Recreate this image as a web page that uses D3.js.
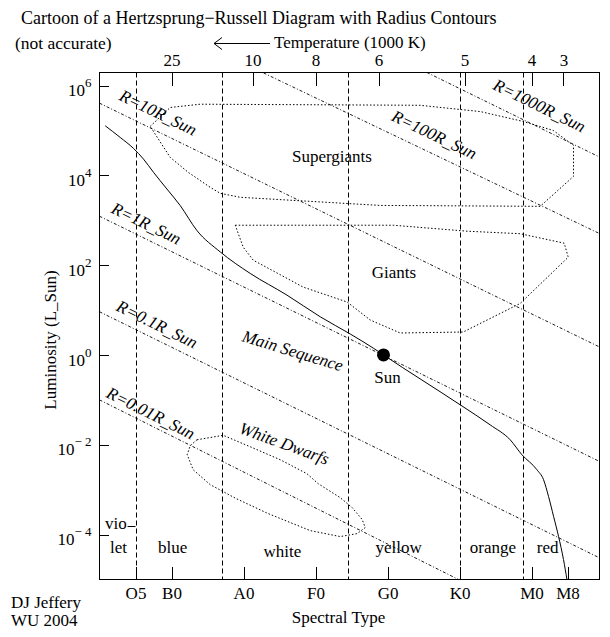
<!DOCTYPE html>
<html>
<head>
<meta charset="utf-8">
<script src="https://cdn.jsdelivr.net/npm/d3@7"></script>
<style>
  body { margin: 0; background: #fff; }
  text { font-family: "Liberation Serif", "Times New Roman", "DejaVu Serif", serif; }
</style>
</head>
<body>
<svg id="canvas"></svg>
<script>
// spectral type axis (x in "class units": B0 = 1, A0 = 2, ...)
var spectralTypes = ['O5', 'B0', 'A0', 'F0', 'G0', 'K0', 'M0', 'M8'];
var spectralPos = [0.5, 1, 2, 3, 4, 5, 6, 6.5];
var tempLabels = ['25', '10', '8', '6', '5', '4', '3'];
var tempPos = [1, 2.125, 3, 3.875, 5.07, 6, 6.444];
var lumExponents = [6, 4, 2, 0, -2, -4];

// colour band boundaries and names
var bandEdges = [0.5, 1.7, 3.45, 5.0, 5.875];
var bandNames = ['vio', 'let', 'blue', 'white', 'yellow', 'orange', 'red'];
var bandX = [0.229, 0.264, 1.017, 2.54, 4.153, 5.465, 6.225];
var bandY = [-3.87, -4.4, -4.42, -4.5, -4.42, -4.42, -4.42];

// radius contours, log L vs spectral position
var radiusNames = ['R=0.01R_Sun', 'R=0.1R_Sun', 'R=1R_Sun', 'R=10R_Sun', 'R=100R_Sun', 'R=1000R_Sun'];
var radiusLines = [
  [[0, -1.0], [4.986, -5.0]],
  [[0, 0.962], [6.944, -4.518]],
  [[0, 3.089], [6.944, -2.371]],
  [[0, 5.607], [6.944, 0.178]],
  [[2.278, 6.28], [6.944, 2.704]],
  [[4.547, 6.29], [6.944, 4.407]]
];
var radiusLabelAt = [[0.08, -0.93], [0.22, 1.0], [0.15, 3.18], [0.26, 5.69], [4.04, 5.23], [5.45, 5.93]];

var mainSequence = [
  [0.079, 5.104], [0.2875, 4.844], [0.472, 4.6], [0.611, 4.362], [0.75, 4.067],
  [0.936, 3.696], [1.121, 3.327], [1.353, 2.771], [1.676, 2.296], [2.093, 1.816],
  [2.603, 1.333], [3.065, 0.851], [3.482, 0.467], [3.806, 0.149], [3.944, 0],
  [5.01, -1.111], [5.425, -1.556], [5.703, -1.889], [5.867, -2.222], [6.075, -2.556],
  [6.167, -2.778], [6.236, -3.149], [6.306, -3.593], [6.375, -4.038], [6.444, -4.556],
  [6.492, -5.0]
];
var sun = [3.944, 0];

var supergiants = [
  [0.704, 5.089], [0.982, 5.511], [1.399, 5.584], [4.45, 5.56], [5.288, 5.42],
  [5.885, 5.2], [6.301, 5.0], [6.583, 4.667], [6.583, 3.978], [6.121, 3.31],
  [3.9, 3.33], [1.954, 3.511], [1.676, 3.6], [1.538, 3.733], [1.232, 4.067],
  [0.982, 4.4]
];
var giants = [
  [1.885, 2.889], [4.079, 2.889], [5.107, 2.756], [5.843, 2.7], [6.454, 2.489],
  [6.51, 2.178], [5.843, 1.148], [5.051, 0.511], [4.176, 0.489], [3.76, 0.778],
  [3.44, 1.178], [2.829, 1.511], [2.135, 2.111], [1.996, 2.4]
];
var whiteDwarfs = [
  [1.353, -1.889], [1.718, -1.789], [2.093, -2.044], [2.51, -2.333], [2.881, -2.644],
  [3.038, -2.867], [3.343, -3.178], [3.51, -3.4], [3.649, -3.667], [3.69, -3.844],
  [3.579, -3.978], [3.343, -4.044], [2.926, -3.911], [2.343, -3.533], [1.9, -3.2],
  [1.538, -2.889], [1.301, -2.556], [1.218, -2.222], [1.26, -2.022]
];

var regionNames = ['Supergiants', 'Giants', 'Sun'];
var regionAt = [[3.228, 4.289], [4.089, 1.704], [4.0, -0.616]];
var slantNames = ['Main Sequence', 'White Dwarfs'];
var slantAt = [[1.968, 0.311], [1.926, -1.733]];
var slantAngle = [17, 20];

var width = 610, height = 637;
var FONT = 17;
var SERIF = '"Liberation Serif", "Times New Roman", "DejaVu Serif", serif';

var svg = d3.select('#canvas').attr('width', width).attr('height', height)
  .attr('font-family', SERIF);

var x = d3.scaleLinear().domain([0, 6.944]).range([99.5, 599.5]);
var y = d3.scaleLinear().domain([-5, 6.29]).range([579.5, 72.5]);

svg.append('clipPath').attr('id', 'plot-clip')
  .append('rect')
  .attr('x', x.range()[0]).attr('y', y.range()[1])
  .attr('width', x.range()[1] - x.range()[0])
  .attr('height', y.range()[0] - y.range()[1]);

var line = d3.line().x(function (d) { return x(d[0]); }).y(function (d) { return y(d[1]); });

// vertical band separators
svg.append('g').selectAll('line')
  .data(bandEdges)
  .enter().append('line')
  .attr('x1', function (d) { return Math.round(x(d)) + 0.5; })
  .attr('x2', function (d) { return Math.round(x(d)) + 0.5; })
  .attr('y1', y.range()[1]).attr('y2', y.range()[0])
  .attr('stroke', '#000').attr('stroke-dasharray', '5,3');

var plot = svg.append('g').attr('clip-path', 'url(#plot-clip)');

plot.selectAll('.radius')
  .data(radiusLines)
  .enter().append('path')
  .classed('radius', true)
  .attr('d', line)
  .attr('fill', 'none').attr('stroke', '#000').attr('stroke-width', 0.9)
  .attr('stroke-dasharray', '3,2,1,2');

[supergiants, giants, whiteDwarfs].forEach(function (poly) {
  plot.append('path')
    .attr('d', line(poly) + 'Z')
    .attr('fill', 'none').attr('stroke', '#000')
    .attr('stroke-dasharray', '1.5,2');
});

plot.append('path')
  .attr('d', line.curve(d3.curveMonotoneX)(mainSequence))
  .attr('fill', 'none').attr('stroke', '#000');
line.curve(d3.curveLinear);

plot.append('circle')
  .attr('cx', x(sun[0])).attr('cy', y(sun[1])).attr('r', 6.5)
  .attr('fill', '#000');

// radius labels along their lines
radiusNames.forEach(function (name, i) {
  var p1 = radiusLines[i][0], p2 = radiusLines[i][1];
  var ang = Math.atan2(y(p2[1]) - y(p1[1]), x(p2[0]) - x(p1[0])) * 180 / Math.PI;
  var px = x(radiusLabelAt[i][0]), py = y(radiusLabelAt[i][1]);
  svg.append('text')
    .attr('transform', 'translate(' + px + ',' + py + ') rotate(' + ang + ')')
    .attr('font-size', FONT).attr('font-style', 'italic')
    .text(name);
});

regionNames.forEach(function (name, i) {
  svg.append('text')
    .attr('x', x(regionAt[i][0])).attr('y', y(regionAt[i][1]))
    .attr('text-anchor', 'middle').attr('font-size', FONT)
    .text(name);
});

slantNames.forEach(function (name, i) {
  svg.append('text')
    .attr('transform', 'translate(' + x(slantAt[i][0]) + ',' + y(slantAt[i][1]) + ') rotate(' + slantAngle[i] + ')')
    .attr('font-size', FONT).attr('font-style', 'italic')
    .text(name);
});

// colour band names
bandNames.forEach(function (name, i) {
  svg.append('text')
    .attr('x', x(bandX[i])).attr('y', y(bandY[i]))
    .attr('text-anchor', 'middle').attr('font-size', FONT)
    .text(name);
});
// hyphen of vio-let running to the O5 line
svg.append('line')
  .attr('x1', x(0.39)).attr('x2', x(bandEdges[0]))
  .attr('y1', Math.round(y(-3.81)) + 0.5).attr('y2', Math.round(y(-3.81)) + 0.5)
  .attr('stroke', '#000');

// axes
function styleAxis(g) {
  g.select('.domain').remove();
  g.attr('font-family', SERIF).attr('font-size', FONT);
  g.selectAll('line').attr('shape-rendering', 'crispEdges');
}

svg.append('g')
  .attr('transform', 'translate(0,' + y.range()[0] + ')')
  .call(d3.axisBottom(x).tickValues(spectralPos)
    .tickFormat(function (d, i) { return spectralTypes[i]; })
    .tickSizeInner(-13).tickSizeOuter(0).tickPadding(7))
  .call(styleAxis);

svg.append('g')
  .attr('transform', 'translate(0,' + y.range()[1] + ')')
  .call(d3.axisTop(x).tickValues(tempPos)
    .tickFormat(function (d, i) { return tempLabels[i]; })
    .tickSizeInner(-13).tickSizeOuter(0).tickPadding(7))
  .call(styleAxis);

svg.append('g')
  .attr('transform', 'translate(' + x.range()[0] + ',0)')
  .call(d3.axisLeft(y).tickValues(lumExponents)
    .tickFormat(function () { return ''; })
    .tickSizeInner(-9).tickSizeOuter(0).tickPadding(8))
  .call(styleAxis)
  .selectAll('.tick text')
  .attr('dy', '0.6em')
  .each(function (d) {
    var t = d3.select(this);
    t.text('10');
    t.append('tspan')
      .attr('dy', -9).attr('font-size', 13)
      .text(d < 0 ? '\u2212 ' + (-d) : d);
  });

// frame
svg.append('rect')
  .attr('x', x.range()[0]).attr('y', y.range()[1])
  .attr('width', x.range()[1] - x.range()[0])
  .attr('height', y.range()[0] - y.range()[1])
  .attr('fill', 'none').attr('stroke', '#000')
  .attr('shape-rendering', 'crispEdges');

// titles
svg.append('text').attr('x', 21).attr('y', 24).attr('font-size', 18)
  .text('Cartoon of a Hertzsprung\u2212Russell Diagram with Radius Contours');
svg.append('text').attr('x', 15).attr('y', 49).attr('font-size', 17.5)
  .text('(not accurate)');
svg.append('text').attr('x', 274).attr('y', 48).attr('font-size', FONT)
  .text('Temperature (1000 K)');
svg.append('path')
  .attr('d', 'M270,43.5H214M222,37.5L214,43.5L222,49.5')
  .attr('fill', 'none').attr('stroke', '#000');

svg.append('text')
  .attr('x', (x.range()[0] + x.range()[1]) / 2 - 11).attr('y', 623)
  .attr('text-anchor', 'middle').attr('font-size', FONT)
  .text('Spectral Type');
svg.append('text')
  .attr('transform', 'translate(56,340) rotate(-90)')
  .attr('text-anchor', 'middle').attr('font-size', FONT)
  .text('Luminosity (L_Sun)');

svg.append('text').attr('x', 11).attr('y', 608).attr('font-size', FONT).text('DJ Jeffery');
svg.append('text').attr('x', 11).attr('y', 626).attr('font-size', FONT).text('WU 2004');
</script>
</body>
</html>
